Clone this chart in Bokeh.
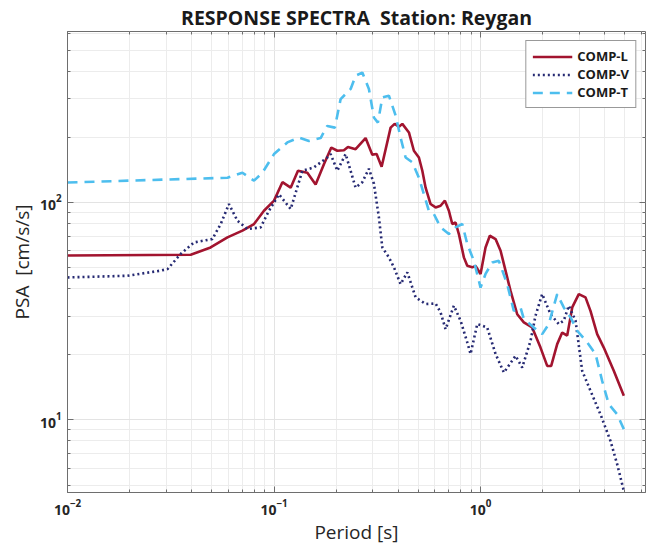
from bokeh.plotting import figure
from bokeh.models import Range1d, FixedTicker, LogAxis, Legend, LegendItem
from bokeh.embed import file_html
from bokeh.resources import INLINE

# Pseudo-spectral acceleration (cm/s/s) versus period (s), three components
period_L = [0.01, 0.0395, 0.0493, 0.0595, 0.0703, 0.0800, 0.0894, 0.100, 0.1098, 0.1204,
            0.1306, 0.145, 0.159, 0.1744, 0.1894, 0.2025, 0.218, 0.228, 0.2483, 0.2776,
            0.2991, 0.3138, 0.3319, 0.3669, 0.3837, 0.4025, 0.418, 0.4499, 0.4756, 0.5029,
            0.5224, 0.5419, 0.5728, 0.6057, 0.6404, 0.6718, 0.7025, 0.7295, 0.7568, 0.7852,
            0.8304, 0.8623, 0.9117, 0.9458, 1.0, 1.057, 1.109, 1.182, 1.25, 1.321,
            1.397, 1.505, 1.62, 1.778, 1.951, 2.102, 2.198, 2.35, 2.485, 2.627,
            2.779, 2.99, 3.222, 3.406, 3.67, 3.95, 4.416, 4.94]
psa_L = [57.0, 57.5, 62.1, 69.1, 74.2, 79.6, 91.6, 102, 124, 117,
         140, 137, 121, 150, 179, 173, 174, 180, 176, 198,
         166, 167, 146, 221, 230, 223, 230, 210, 173, 161,
         140, 117, 98.4, 94.9, 96.6, 102, 91.6, 79.6, 80.9, 71.6,
         55.9, 51.1, 50.3, 51.1, 46.9, 62.1, 70.3, 67.9, 60.0, 48.6,
         39.2, 30.6, 28.1, 26.6, 21.5, 17.7, 17.7, 22.3, 25.2, 24.4,
         32.9, 37.9, 36.6, 31.7, 24.8, 21.5, 16.8, 12.9]

period_V = [0.01, 0.0195, 0.0283, 0.0305, 0.0353, 0.041, 0.0503, 0.0552, 0.0605, 0.0665,
            0.0743, 0.0861, 0.0945, 0.1057, 0.1204, 0.1372, 0.156, 0.181, 0.188, 0.2025,
            0.2222, 0.2483, 0.2676, 0.288, 0.3045, 0.322, 0.3345, 0.36, 0.3807, 0.41,
            0.4419, 0.4848, 0.5419, 0.6057, 0.6404, 0.6771, 0.7427, 0.8002, 0.8623, 0.8946,
            0.964, 1.077, 1.182, 1.297, 1.477, 1.591, 1.746, 1.845, 1.988, 2.182,
            2.392, 2.529, 2.674, 2.883, 3.105, 3.406, 3.807, 4.256, 4.586, 4.94]
psa_V = [45.2, 46.0, 48.6, 49.4, 57.9, 65.5, 67.9, 79.6, 98.4, 82.4,
         75.5, 76.8, 91.6, 109, 93.3, 140, 145, 161, 167, 140,
         167, 117, 124, 143, 122, 85.3, 62.1, 55.9, 50.3, 42.1,
         47.7, 36.6, 34.1, 34.3, 31.2, 26.1, 33.5, 28.6, 22.7, 20.1,
         27.6, 26.6, 20.1, 16.5, 19.7, 17.4, 23.1, 30.1, 37.9, 30.6,
         27.6, 28.6, 33.5, 28.6, 16.8, 13.6, 10.6, 8.0, 6.25, 4.71]

period_T = [0.01, 0.0595, 0.0703, 0.080, 0.0878, 0.100, 0.116, 0.132, 0.1476, 0.1682,
            0.181, 0.197, 0.2101, 0.235, 0.2483, 0.2676, 0.288, 0.3045, 0.3184, 0.3345,
            0.36, 0.388, 0.41, 0.4337, 0.4672, 0.5029, 0.5318, 0.5621, 0.5943, 0.6404,
            0.7025, 0.7568, 0.8155, 0.8623, 0.928, 1.0, 1.057, 1.139, 1.226, 1.346,
            1.449, 1.561, 1.62, 1.81, 1.988, 2.14, 2.35, 2.529, 2.727, 2.938,
            3.284, 3.602, 3.88, 4.176, 4.586, 4.94]
psa_T = [123.6, 130, 137, 126, 137, 167, 189, 199, 192, 198,
         225, 221, 299, 333, 383, 396, 333, 246, 233, 304,
         310, 251, 199, 161, 153, 130, 109, 91.6, 88.5, 76.8,
         71.6, 76.8, 79.6, 64.4, 53.9, 40.6, 46.9, 53.0, 53.9, 42.1,
         31.7, 32.9, 29.1, 26.6, 24.8, 27.6, 37.9, 32.9, 29.6, 25.7,
         22.7, 20.1, 15.1, 11.8, 10.6, 9.06]

series_names = ["COMP-L", "COMP-V", "COMP-T"]

x_major = [0.01, 0.1, 1.0]
x_minor = [m * 10.0 ** e for e in (-2, -1, 0) for m in range(2, 10)]
y_major = [10, 100]
y_minor = [m * 10.0 ** e for e in (0, 1, 2) for m in range(2, 10)]

FONT = "Open Sans"
GRID = "#e3e3e3"
AXIS = "#6e6e6e"
NBSP = "\u00a0"

p = figure(width=646, height=547, x_axis_type="log", y_axis_type="log",
           x_range=Range1d(0.01, 6.29), y_range=Range1d(4.63, 612),
           output_backend="svg", toolbar_location=None,
           min_border_left=67, min_border_right=1, min_border_top=31, min_border_bottom=55,
           title="RESPONSE SPECTRA" + NBSP + " Station: Reygan")

p.title.align = "center"
p.title.text_font = FONT
p.title.text_font_size = "19.5px"
p.title.text_font_style = "bold"
p.title.text_color = "#1a1a1a"
p.title.standoff = 2

p.outline_line_color = AXIS
p.outline_line_width = 1
p.background_fill_color = "white"
p.border_fill_color = "white"

for ax, major, minor in ((p.xaxis[0], x_major, x_minor), (p.yaxis[0], y_major, y_minor)):
    ax.ticker = FixedTicker(ticks=major, minor_ticks=minor)
    ax.major_tick_in = 6
    ax.major_tick_out = 0
    ax.minor_tick_in = 3
    ax.minor_tick_out = 0
    ax.axis_line_color = AXIS
    ax.major_tick_line_color = AXIS
    ax.minor_tick_line_color = AXIS
    ax.major_label_text_font = FONT
    ax.major_label_text_font_style = "bold"
    ax.major_label_text_font_size = "14px"
    ax.major_label_text_color = "#262626"
    ax.axis_label_text_font = FONT
    ax.axis_label_text_font_style = "normal"
    ax.axis_label_text_font_size = "19px"
    ax.axis_label_text_color = "#262626"

p.xaxis.axis_label = "Period [s]"
p.xaxis.major_label_standoff = 6
p.xaxis.axis_label_standoff = 1
p.yaxis.axis_label = "PSA" + NBSP + " [cm/s/s]"
p.yaxis.major_label_standoff = 6
p.yaxis.axis_label_standoff = 2

for g, major, minor in ((p.xgrid[0], x_major, x_minor), (p.ygrid[0], y_major, y_minor)):
    g.ticker = FixedTicker(ticks=major, minor_ticks=minor)
    g.grid_line_color = GRID
    g.minor_grid_line_color = "#ececec"

# mirrored ticks on the top and right edges of the box (labels hidden)
top = LogAxis(ticker=FixedTicker(ticks=x_major, minor_ticks=x_minor),
              major_label_text_font_size="1px", major_label_text_alpha=0,
              major_label_standoff=0,
              major_tick_in=6, major_tick_out=0, minor_tick_in=3, minor_tick_out=0,
              axis_line_color=None, major_tick_line_color=AXIS, minor_tick_line_color=AXIS)
right = LogAxis(ticker=FixedTicker(ticks=y_major, minor_ticks=y_minor),
                major_label_text_font_size="1px", major_label_text_alpha=0,
                major_label_standoff=0,
                major_tick_in=6, major_tick_out=0, minor_tick_in=3, minor_tick_out=0,
                axis_line_color=None, major_tick_line_color=AXIS, minor_tick_line_color=AXIS)
p.add_layout(top, "above")
p.add_layout(right, "right")

r_L = p.line(period_L, psa_L, line_color="#A2142F", line_width=2.6)
r_V = p.line(period_V, psa_V, line_color="#262a73", line_width=2.6, line_dash="2 3")
r_T = p.line(period_T, psa_T, line_color="#4DBEEE", line_width=2.6, line_dash="10 7")

legend = Legend(items=[LegendItem(label=n, renderers=[r]) for n, r in zip(series_names, [r_L, r_V, r_T])],
                location="top_right", margin=9, padding=6, spacing=0,
                glyph_width=40, glyph_height=15, label_height=15, label_standoff=5,
                label_text_font=FONT, label_text_font_style="bold",
                label_text_font_size="13px", label_text_color="#1a1a1a",
                border_line_color="#333333", border_line_width=1,
                background_fill_color="white", background_fill_alpha=1.0)
p.add_layout(legend)

open("out.html", "w").write(file_html(p, INLINE))
